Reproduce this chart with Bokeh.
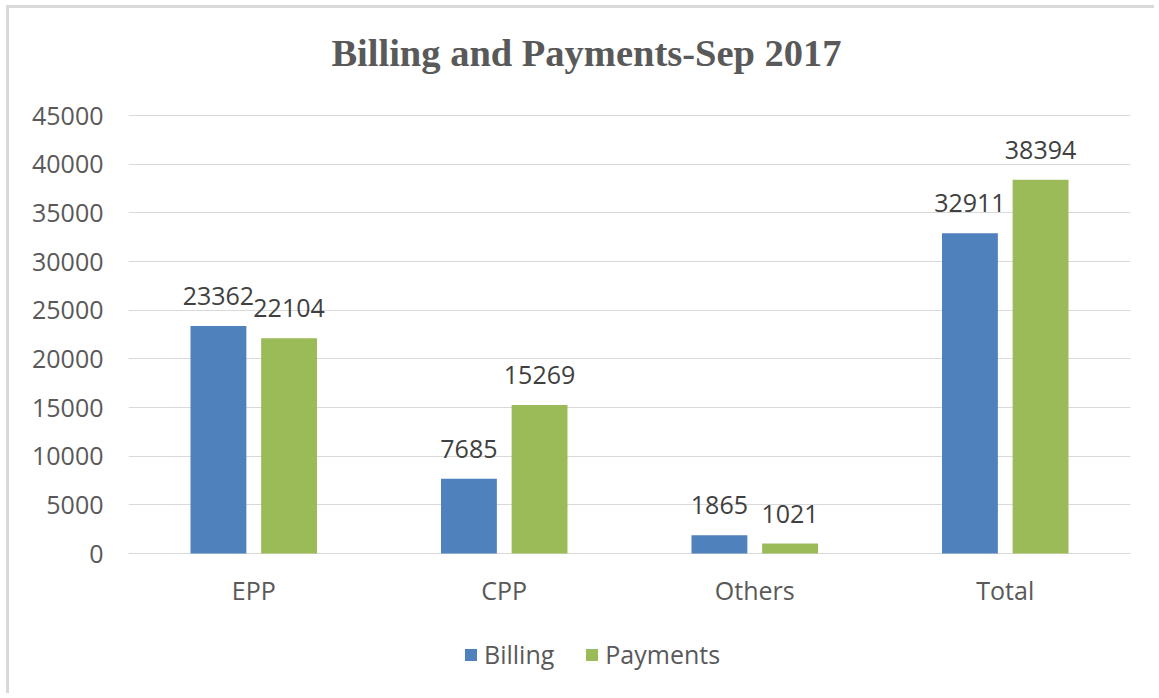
from bokeh.plotting import figure
from bokeh.models import (ColumnDataSource, FactorRange, Range1d, LabelSet, Label,
                          Legend, LegendItem, FixedTicker, BasicTickFormatter)
from bokeh.transform import dodge
from bokeh.embed import file_html
from bokeh.resources import INLINE
from bokeh.core.properties import value

categories = ["EPP", "CPP", "Others", "Total"]
billing = [23362, 7685, 1865, 32911]
payments = [22104, 15269, 1021, 38394]
series = ["Billing", "Payments"]
y_ticks = [0, 5000, 10000, 15000, 20000, 25000, 30000, 35000, 40000, 45000]
title_text = "Billing and Payments-Sep 2017"

FONT = "Open Sans"
GRAY = "#595959"
BLUE = "#4F81BD"
GREEN = "#9BBB59"

W, H = 1148, 688
# plot area: 0 at 545px from the canvas top, 45000 at 107px from the top
PX_PER_UNIT = 438 / 45000
Y_TOP = 45000 + 107 / PX_PER_UNIT
Y_BOT = -(H - 545) / PX_PER_UNIT

p = figure(width=W, height=H,
           x_range=FactorRange(*categories, range_padding=0),
           y_range=Range1d(Y_BOT, Y_TOP),
           x_axis_location=None,
           output_backend="svg", toolbar_location=None,
           min_border_left=119, min_border_right=27,
           min_border_top=0, min_border_bottom=0)
p.title = None
p.outline_line_color = None
p.background_fill_color = "white"
p.border_fill_color = "white"
p.styles = {"border-top": "3px solid #d9d9d9", "border-left": "3px solid #d9d9d9",
            "margin-left": "6px", "margin-top": "5px"}

src = ColumnDataSource(dict(cat=categories, billing=billing, payments=payments,
                            base=[0] * len(categories),
                            bl=[str(v) for v in billing],
                            pl=[str(v) for v in payments]))

OFF = 0.141
BW = 0.223
r1 = p.vbar(x=dodge("cat", -OFF, range=p.x_range), top="billing", bottom="base",
            width=BW, source=src, fill_color=BLUE, line_color=None)
r2 = p.vbar(x=dodge("cat", OFF, range=p.x_range), top="payments", bottom="base",
            width=BW, source=src, fill_color=GREEN, line_color=None)

for xs, col, txt in ((-OFF, "billing", "bl"), (OFF, "payments", "pl")):
    p.add_layout(LabelSet(x=dodge("cat", xs, range=p.x_range), y=col,
                          text=txt, source=src,
                          text_align="center", text_baseline="alphabetic", y_offset=21,
                          text_font=value(FONT), text_font_size=value("25px"),
                          text_color="#404040"))

# category labels under the zero line
p.add_layout(LabelSet(x="cat", y="base", text="cat", source=src,
                      text_align="center", text_baseline="alphabetic", y_offset=-46,
                      text_font=value(FONT), text_font_size=value("25px"),
                      text_color=GRAY))

# grid / y axis
p.ygrid.ticker = FixedTicker(ticks=y_ticks)
p.ygrid.grid_line_color = "#d9d9d9"
p.ygrid.grid_line_width = 1
p.xgrid.grid_line_color = None

p.yaxis.ticker = FixedTicker(ticks=y_ticks)
p.yaxis.formatter = BasicTickFormatter(use_scientific=False)
p.yaxis.axis_line_color = None
p.yaxis.major_tick_line_color = None
p.yaxis.minor_tick_line_color = None
p.yaxis.major_label_standoff = 19
p.yaxis.major_label_text_font = FONT
p.yaxis.major_label_text_font_size = "25px"
p.yaxis.major_label_text_color = GRAY

# title (screen units relative to the plot area: x from left, y from bottom)
p.add_layout(Label(x=458, y=H - 44, x_units="screen", y_units="screen",
                   text=title_text, text_align="center", text_baseline="alphabetic",
                   text_font="Liberation Serif", text_font_style="bold",
                   text_font_size="38.5px", text_color=GRAY))

legend = Legend(items=[LegendItem(label=series[0], renderers=[r1]),
                       LegendItem(label=series[1], renderers=[r2])],
                orientation="horizontal", location=(335, 25),
                border_line_color=None, background_fill_alpha=0,
                padding=0, margin=0, spacing=30,
                glyph_width=15, glyph_height=15, label_standoff=6,
                label_text_font=FONT, label_text_font_size="25px",
                label_text_color=GRAY)
p.add_layout(legend)

open("out.html", "w").write(file_html(p, INLINE))
